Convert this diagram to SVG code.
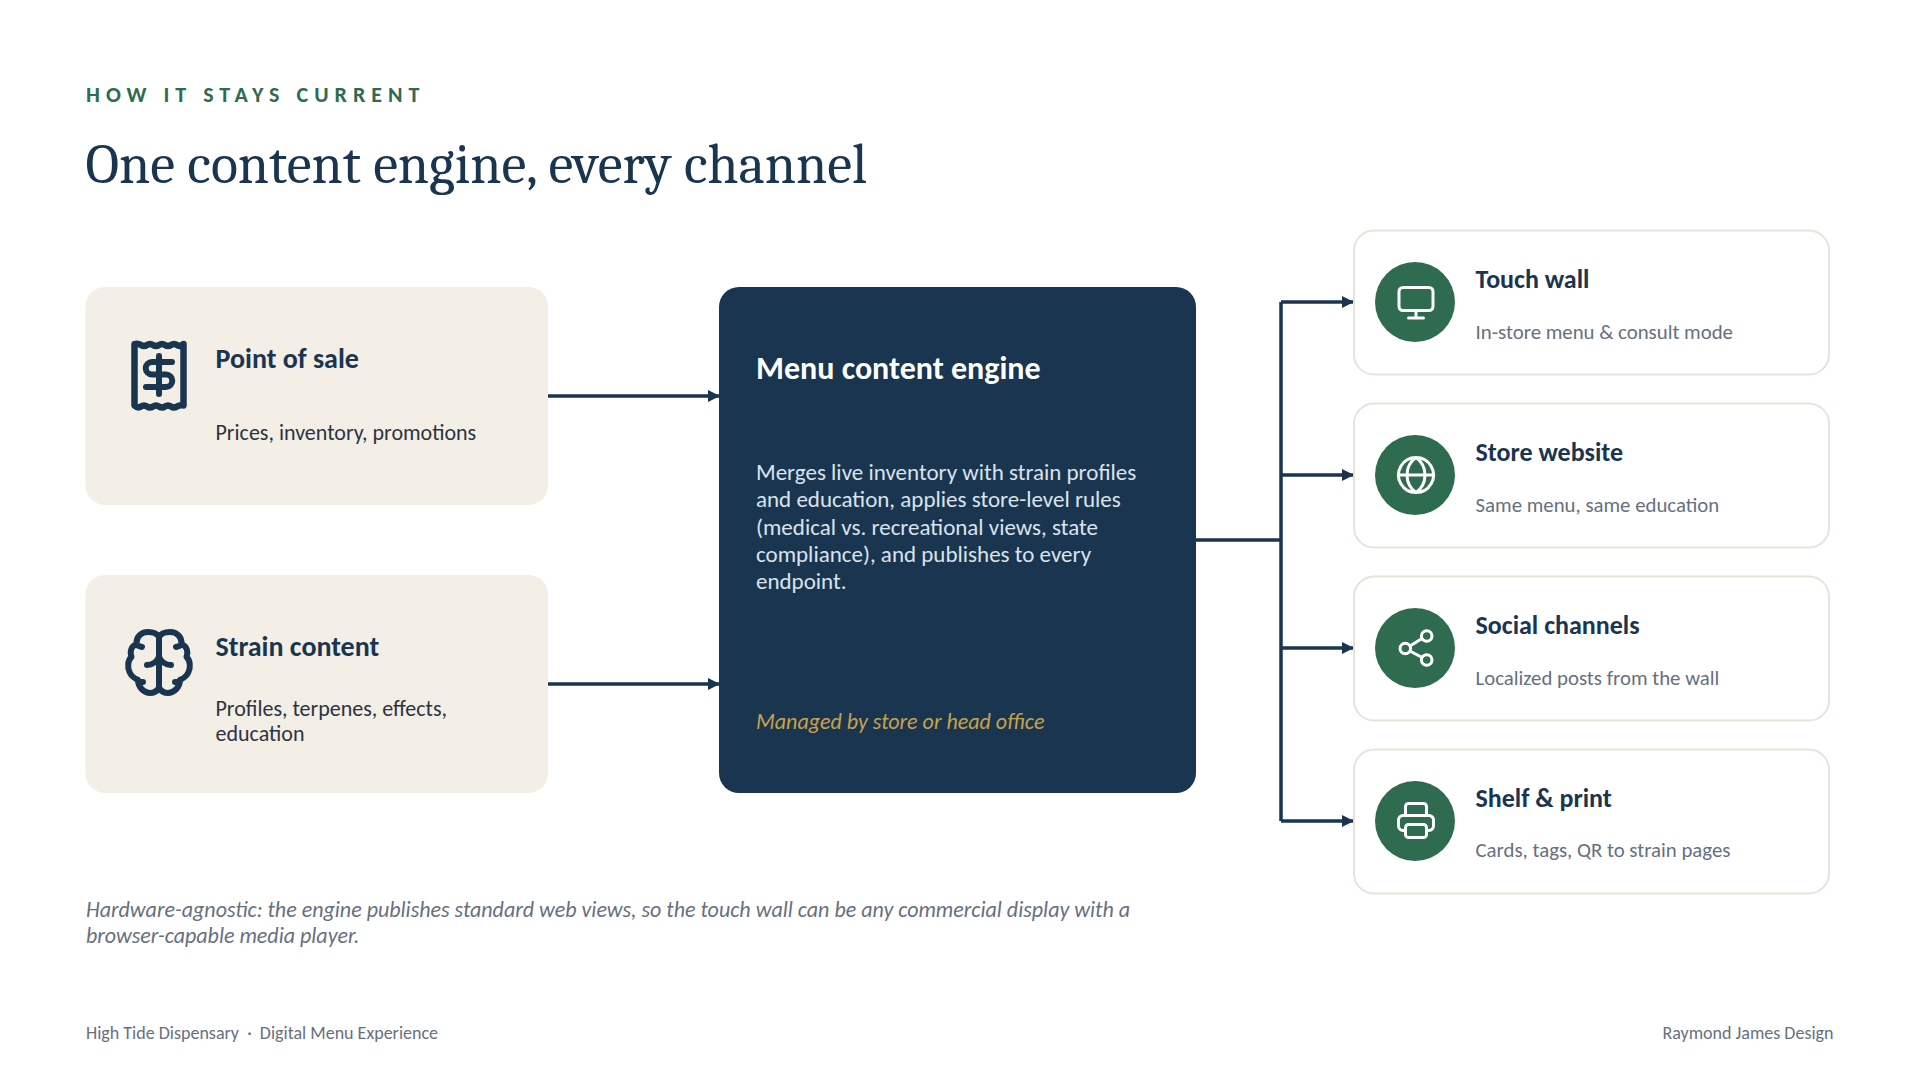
<svg xmlns="http://www.w3.org/2000/svg" width="1921" height="1080" viewBox="0 0 1921 1080">
<style>
text{font-family:Carlito,Lato,"Liberation Sans",sans-serif}
.src{fill:#f3eee6}
.out{fill:#fff;stroke:#e8e3da;stroke-width:2}
.t{font-size:28px;font-weight:700;fill:#1a3550}
.t2{font-size:26px;font-weight:700;fill:#1a3550}
.s1{font-size:22px;fill:#2b3442}
.s2{font-size:20.800px;fill:#667080}
.b{font-size:23px;fill:#dbe3ec}
.f{font-size:18px;fill:#667080}
.n{font-size:22px;font-style:italic;fill:#667080}
.c{fill:none;stroke:#1a3550;stroke-width:3.500}
.ic{fill:none;stroke:#fff;stroke-width:3;stroke-linecap:round;stroke-linejoin:round}
.in{fill:none;stroke:#1a3550;stroke-width:6;stroke-linecap:round;stroke-linejoin:round}
.dot{fill:#2f6b4f}
</style>
<defs><marker id="a" markerUnits="userSpaceOnUse" markerWidth="12" markerHeight="12" refX="11" refY="6" orient="auto"><path d="M0 0L12 6L0 12Z" fill="#1a3550"/></marker></defs>
<rect width="1921" height="1080" fill="#fff"/>
<text x="86" y="101.500" style="font-size:22px;font-weight:700;letter-spacing:6px;fill:#2f6b4f">HOW IT STAYS CURRENT</text>
<text x="85.500" y="183" style="font-family:Caladea,'Noto Serif','Liberation Serif',serif;font-size:56px;fill:#1a3550">One content engine, every channel</text>
<g id="connectors">
<path class="c" d="M547 396H719" marker-end="url(#a)"/>
<path class="c" d="M547 684H719" marker-end="url(#a)"/>
<path class="c" d="M1196 540H1281"/>
<path class="c" d="M1281 302V821"/>
<path class="c" d="M1281 302H1353" marker-end="url(#a)"/>
<path class="c" d="M1281 475H1353" marker-end="url(#a)"/>
<path class="c" d="M1281 648H1353" marker-end="url(#a)"/>
<path class="c" d="M1281 821H1353" marker-end="url(#a)"/>
</g>
<g id="pos"><rect class="src" x="85.500" y="287" width="462.500" height="218" rx="20"/>
<path class="in" style="stroke-width:6.500" d="M134.500 344V405.500Q138 408.500 141 406.500T147 406.500T153 406.500T159 406.500T165 406.500T171 406.500T177 406.500T183.500 405.500V344Q180 347 177 345T171 345T165 345T159 345T153 345T147 345T141 345T134.500 344Z"/>
<path class="in" d="M172 362H152a6.250 6.250 0 0 0 0 12.500H166a6.250 6.250 0 0 1 0 12.500H146M159 356V394"/>
<text class="t" x="215.500" y="368">Point of sale</text><text class="s1" x="215.500" y="440">Prices, inventory, promotions</text></g>
<g id="strain"><rect class="src" x="85.500" y="575" width="462.500" height="218" rx="20"/>
<path id="brainhalf" class="in" d="M159 637C161 633 166 632 170 632C177 632 182 637 181.500 644C186.500 646 188.500 651 186.500 657C190.500 660 190.500 668 188.500 672C186.500 677 182 679 180 680C180 687 174 693 168 693C164 693 161 691 159 688M181.500 644Q181 646 176 647M180 680Q179 682 175 682M159 637V688M159 657Q163 665 171 665"/>
<path class="in" transform="matrix(-1 0 0 1 318 0)" d="M159 637C161 633 166 632 170 632C177 632 182 637 181.500 644C186.500 646 188.500 651 186.500 657C190.500 660 190.500 668 188.500 672C186.500 677 182 679 180 680C180 687 174 693 168 693C164 693 161 691 159 688M181.500 644Q181 646 176 647M180 680Q179 682 175 682M159 657Q163 665 171 665"/>
<text class="t" x="215.500" y="656">Strain content</text><text class="s1" x="215.500" y="715.500">Profiles, terpenes, effects,</text><text class="s1" x="215.500" y="741">education</text></g>
<g id="engine"><rect x="719" y="287" width="477" height="506" rx="20" fill="#1a3550"/>
<text x="756" y="379" style="font-size:32px;font-weight:700;fill:#fff">Menu content engine</text>
<text class="b" x="756" y="479.500">Merges live inventory with strain profiles</text>
<text class="b" x="756" y="507">and education, applies store-level rules</text>
<text class="b" x="756" y="534.500">(medical vs. recreational views, state</text>
<text class="b" x="756" y="562">compliance), and publishes to every</text>
<text class="b" x="756" y="589">endpoint.</text>
<text x="756" y="728.500" style="font-size:22px;font-style:italic;fill:#c9a24a">Managed by store or head office</text></g>
<g id="touch"><rect class="out" x="1354" y="230.500" width="475" height="144" rx="20"/><circle class="dot" cx="1415" cy="302" r="40"/>
<path class="ic" d="M1403 287.500H1429a4 4 0 0 1 4 4V306.500a4 4 0 0 1 -4 4H1403a4 4 0 0 1 -4 -4V291.500a4 4 0 0 1 4 -4ZM1416 311V318M1408.500 318H1423.500"/>
<text class="t2" x="1475.500" y="287.500">Touch wall</text><text class="s2" x="1475.500" y="339">In-store menu &amp; consult mode</text></g>
<g id="web"><rect class="out" x="1354" y="403.500" width="475" height="144" rx="20"/><circle class="dot" cx="1415" cy="475" r="40"/>
<path class="ic" d="M1416 457.500a17.500 17.500 0 1 0 .01 0ZM1398.500 475H1433.500M1416 457.500C1404 466 1404 484 1416 492.500C1428 484 1428 466 1416 457.500Z"/>
<text class="t2" x="1475.500" y="460.500">Store website</text><text class="s2" x="1475.500" y="512">Same menu, same education</text></g>
<g id="social"><rect class="out" x="1354" y="576.500" width="475" height="144" rx="20"/><circle class="dot" cx="1415" cy="648" r="40"/>
<path class="ic" d="M1421.400 636a5.300 5.300 0 1 0 10.600 0a5.300 5.300 0 1 0 -10.600 0M1400 648.500a5.300 5.300 0 1 0 10.600 0a5.300 5.300 0 1 0 -10.600 0M1421.400 660a5.300 5.300 0 1 0 10.600 0a5.300 5.300 0 1 0 -10.600 0M1410 646L1422 638.500M1410 651L1422 657.500"/>
<text class="t2" x="1475.500" y="633.500">Social channels</text><text class="s2" x="1475.500" y="685">Localized posts from the wall</text></g>
<g id="shelf"><rect class="out" x="1354" y="749.500" width="475" height="144" rx="20"/><circle class="dot" cx="1415" cy="821" r="40"/>
<path class="ic" d="M1405.500 815V806.500a3 3 0 0 1 3 -3H1423.500a3 3 0 0 1 3 3V815M1405.500 830.500H1403a4.500 4.500 0 0 1 -4.500 -4.500V820a4.500 4.500 0 0 1 4.500 -4.500H1429a4.500 4.500 0 0 1 4.500 4.500V826a4.500 4.500 0 0 1 -4.500 4.500H1426.500M1408.500 824.500H1423.500a3 3 0 0 1 3 3V834.500a3 3 0 0 1 -3 3H1408.500a3 3 0 0 1 -3 -3V827.500a3 3 0 0 1 3 -3Z"/>
<text class="t2" x="1475.500" y="806.500">Shelf &amp; print</text><text class="s2" x="1475.500" y="857">Cards, tags, QR to strain pages</text></g>
<text class="n" x="86" y="917">Hardware-agnostic: the engine publishes standard web views, so the touch wall can be any commercial display with a</text>
<text class="n" x="86" y="943">browser-capable media player.</text>
<text class="f" x="86" y="1039">High Tide Dispensary &#160;·&#160; Digital Menu Experience</text>
<text class="f" x="1833.500" y="1039" text-anchor="end">Raymond James Design</text>
</svg>
